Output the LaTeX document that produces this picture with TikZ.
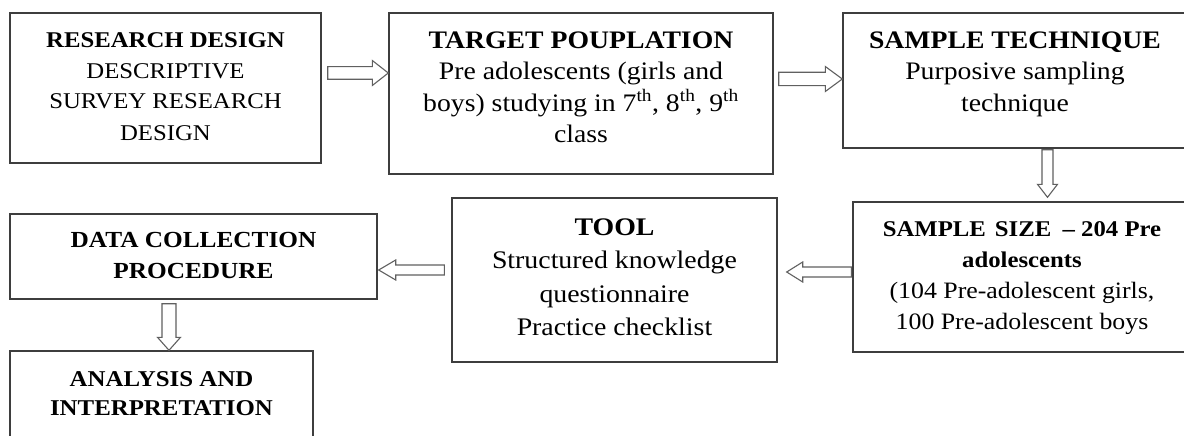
\documentclass[tikz,border=0pt]{standalone}
\usepackage{fontspec}
\setmainfont{Liberation Serif}[FakeStretch=1.1]
\usetikzlibrary{calc}

\definecolor{boxline}{RGB}{62,62,62}
\definecolor{arrowline}{RGB}{96,96,96}

% #1 width, #2 height, #3 first baseline below top, #4 font size, #5 line skip, #6 text
\newcommand\boxtext[6]{\parbox[c][#2pt][t]{#1pt}{\centering\fontsize{#4}{#5}\selectfont\rule{0pt}{#3pt}#6}}

% hollow block arrow: #1 tail, #2 tip, #3 shaft half width, #4 head half width, #5 head length
\newcommand\hollowarrow[5]{%
  \coordinate (hb) at ($(#2)!#5!(#1)$);
  \draw[hollow] ($(#1)!#3!90:(#2)$) -- ($(hb)!#3!90:(#2)$) -- ($(hb)!#4!90:(#2)$) -- (#2)
    -- ($(hb)!#4!-90:(#2)$) -- ($(hb)!#3!-90:(#2)$) -- ($(#1)!#3!-90:(#2)$) -- cycle;}

\begin{document}
\begin{tikzpicture}[x=1pt, y=-1pt,
  box/.style={draw=boxline, line width=1.4pt, inner sep=0pt, fill=white},
  hollow/.style={draw=arrowline, line width=1.1pt, fill=white, line join=miter}]
\useasboundingbox (0,0) rectangle (1184,436);
\clip (0,0) rectangle (1184,436);
\fill[white] (0,0) rectangle (1184,436);

% top row
\node[box] (b1) at (165.5,88) {\boxtext{311}{150}{34}{22.5}{31}{%
  \textbf{RESEARCH DESIGN}\\ DESCRIPTIVE\\ SURVEY RESEARCH\\ DESIGN}};
\node[box] (b2) at (581,93.5) {\boxtext{384}{161}{35}{25.2}{31.5}{%
  \textbf{TARGET POUPLATION}\\ Pre adolescents (girls and\\
  boys) studying in 7\textsuperscript{th}, 8\textsuperscript{th}, 9\textsuperscript{th}\\ class}};
\node[box] (b3) at (1015,80.5) {\boxtext{344}{135}{35}{25.2}{31.5}{%
  \textbf{SAMPLE TECHNIQUE}\\ Purposive sampling\\ technique}};

% middle row
\node[box] (b4) at (1022,277) {\boxtext{338}{150}{34}{23.5}{31}{%
  {\fontsize{22.5}{31}\selectfont\textbf{SAMPLE\hspace{0.4em}SIZE\hspace{0.5em}– 204 Pre}}\\
  {\fontsize{22.5}{31}\selectfont\textbf{adolescents}}\\
  (104 Pre-adolescent girls,\\ 100 Pre-adolescent boys}};
\node[box] (b5) at (614.5,280) {\boxtext{325}{164}{37}{25.3}{33.5}{%
  \textbf{TOOL}\\ Structured knowledge\\ questionnaire\\ Practice checklist}};
\node[box] (b6) at (193.5,256.5) {\boxtext{367}{85}{33}{23}{31}{%
  \textbf{DATA COLLECTION}\\ \textbf{PROCEDURE}}};

% bottom row
\node[box] (b7) at (161.5,395.5) {\boxtext{303}{89}{35}{22.6}{29}{%
  \textbf{ANALYSIS AND}\\ \textbf{INTERPRETATION}}};

% connector end points
\coordinate (a1s) at ($(b1.east)+(6,-15)$);
\coordinate (a1e) at (b2.west |- a1s);
\coordinate (a2s) at ($(b2.east)+(5,-14.5)$);
\coordinate (a2e) at (b3.west |- a2s);
\coordinate (a3s) at ($(b3.south)+(32.5,1)$);
\coordinate (a3e) at ($(a3s |- b4.north)+(0,-4)$);
\coordinate (a4s) at ($(b4.west)+(-1,-5)$);
\coordinate (a4e) at ($(b5.east |- a4s)+(9,0)$);
\coordinate (a5s) at ($(b5.west)+(-7,-10)$);
\coordinate (a5e) at ($(b6.east |- a5s)+(1,0)$);
\coordinate (a6s) at ($(b6.south)+(-24.5,4)$);
\coordinate (a6e) at (a6s |- b7.north);

% connectors
\hollowarrow{a1s}{a1e}{6.3pt}{12.5pt}{16pt}
\hollowarrow{a2s}{a2e}{6.7pt}{12.5pt}{17pt}
\hollowarrow{a3s}{a3e}{5.5pt}{10pt}{13pt}
\hollowarrow{a4s}{a4e}{5pt}{10pt}{16pt}
\hollowarrow{a5s}{a5e}{5pt}{10pt}{17pt}
\hollowarrow{a6s}{a6e}{7pt}{11.5pt}{13pt}
\end{tikzpicture}
\end{document}
